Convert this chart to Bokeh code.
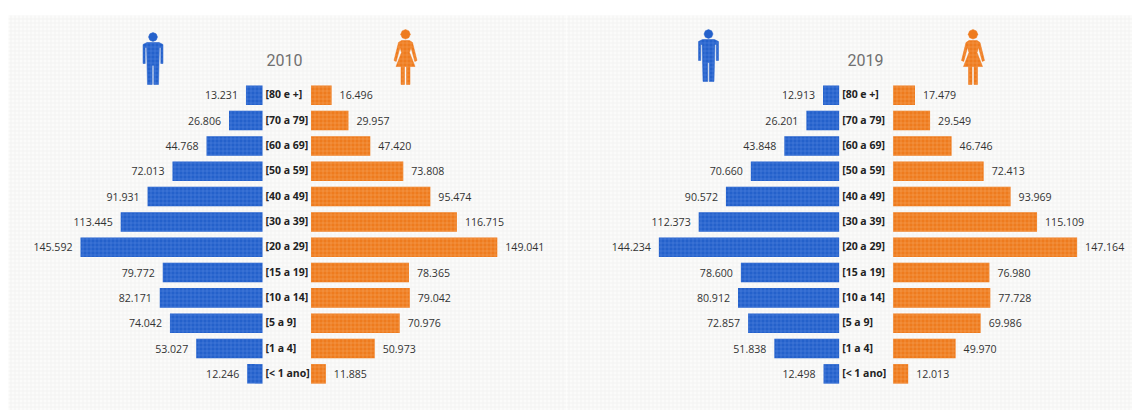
from bokeh.plotting import figure
from bokeh.layouts import row
from bokeh.models import Range1d
from bokeh.core.properties import value
from bokeh.embed import file_html
from bokeh.resources import INLINE

categories = ["[< 1 ano]", "[1 a 4]", "[5 a 9]", "[10 a 14]", "[15 a 19]", "[20 a 29]",
              "[30 a 39]", "[40 a 49]", "[50 a 59]", "[60 a 69]", "[70 a 79]", "[80 e +]"]
male_2010 = [12246, 53027, 74042, 82171, 79772, 145592, 113445, 91931, 72013, 44768, 26806, 13231]
female_2010 = [11885, 50973, 70976, 79042, 78365, 149041, 116715, 95474, 73808, 47420, 29957, 16496]
male_2019 = [12498, 51838, 72857, 80912, 78600, 144234, 112373, 90572, 70660, 43848, 26201, 12913]
female_2019 = [12013, 49970, 69986, 77728, 76980, 147164, 115109, 93969, 72413, 46746, 29549, 17479]

BLUE, ORANGE = "#2461cb", "#ee7b1e"
BG = "#fbfbfa"
PX = 0.00125       # pixels per person
ROW = 25.33        # pixels per row
W, H = 566, 410
TOP_END = 14.74    # row value at the top edge of the page


def fmt(v):
    return f"{v:,}".replace(",", ".")


def icon(p, color, hatch, outline, head_r, cx, top, h, units, center_px):
    s = h / units
    X = lambda d: (cx + d * s - center_px) / PX
    Y = lambda d: TOP_END - (top + d * s) / ROW
    p.patch([X(a) for a, _ in outline], [Y(b) for _, b in outline],
            fill_color=color, line_color=color, line_width=0.5,
            hatch_pattern="cross", hatch_color=hatch, hatch_alpha=0.5, hatch_scale=4, hatch_weight=0.6)
    ring = [(-1, 0), (-.7, -.7), (0, -1), (.7, -.7), (1, 0), (.7, .7), (0, 1), (-.7, .7)]
    p.patch([X(head_r * a) for a, _ in ring], [Y(head_r + head_r * b) for _, b in ring],
            fill_color=color, line_color=color, line_width=0.5)


MAN = [(-10, 12), (-6, 10), (6, 10), (10, 12), (10, 31), (7.8, 31), (7.8, 15), (6.4, 15), (5.5, 52), (0.8, 52),
       (0.8, 33), (-0.8, 33), (-0.8, 52), (-5.5, 52), (-6.4, 15), (-7.8, 15), (-7.8, 31), (-10, 31)]
WOMAN = [(-4, 11), (4, 11), (7, 13), (11.5, 31), (9.3, 32), (5.5, 18), (4, 23), (9.5, 37), (4.5, 37), (4.5, 55),
         (1, 55), (1, 37), (-1, 37), (-1, 55), (-4.5, 55), (-4.5, 37), (-9.5, 37), (-4, 23), (-5.5, 18),
         (-9.3, 32), (-11.5, 31), (-7, 13)]


def panel(male, female, title, title_px, center_px, gap_px, man_xy, woman_xy, page_left):
    half = gap_px / 2 / PX
    start = -(center_px - page_left) / PX
    p = figure(width=W, height=H, output_backend="svg", toolbar_location=None,
               x_range=Range1d(start, start + W / PX),
               y_range=Range1d(TOP_END - H / ROW, TOP_END),
               min_border=0, outline_line_color=None, background_fill_color="#ffffff",
               border_fill_color="#ffffff")
    p.axis.visible = False
    p.grid.visible = False
    # paper backdrop, white above y=15 and left of x=8
    p.quad(left=(8 - center_px) / PX, right=start + W / PX, top=TOP_END - 15 / ROW, bottom=TOP_END - H / ROW,
           fill_color=BG, line_color=None,
           hatch_pattern="cross", hatch_color="#ebebe9", hatch_alpha=0.8, hatch_scale=4, hatch_weight=0.6)
    y = list(range(len(categories)))
    p.hbar(y=y, left=[-v - half for v in male], right=-half, height=0.77,
           fill_color=BLUE, line_color=None,
           hatch_pattern="cross", hatch_color="#6f9be6", hatch_alpha=0.5, hatch_scale=4, hatch_weight=0.6)
    p.hbar(y=y, left=half, right=[v + half for v in female], height=0.77,
           fill_color=ORANGE, line_color=None,
           hatch_pattern="cross", hatch_color="#f9b57a", hatch_alpha=0.55, hatch_scale=4, hatch_weight=0.6)
    font = value("Open Sans")
    p.text([-v - half for v in male], y, text=[fmt(v) for v in male], text_align="right",
           text_baseline="middle", x_offset=-8, text_font=font, text_font_size="10.6px", text_color="#333333")
    p.text([v + half for v in female], y, text=[fmt(v) for v in female], text_align="left",
           text_baseline="middle", x_offset=8, text_font=font, text_font_size="10.6px", text_color="#333333")
    p.text([-half] * len(y), y, text=categories, text_align="left", text_baseline="middle",
           x_offset=3, y_offset=-1, text_font=font, text_font_size="10.5px", text_font_style="bold",
           text_color="#222222")
    p.text([(title_px - center_px) / PX], [TOP_END - 59 / ROW], text=[title], text_align="center",
           text_baseline="middle", text_font=value("Roboto"), text_font_size="16px", text_color="#707070")
    icon(p, BLUE, "#6f9be6", MAN, 4.5, man_xy[0], man_xy[1], man_xy[2], 52, center_px)
    icon(p, ORANGE, "#f9b57a", WOMAN, 4.8, woman_xy[0], woman_xy[1], woman_xy[2], 55, center_px)
    return p


p1 = panel(male_2010, female_2010, "2010", 284, 286.25, 48.5, (152.5, 32, 52), (405, 29, 55), 0)
p2 = panel(male_2019, female_2019, "2019", 865, 865.65, 54.0, (708, 29, 52), (972.5, 29, 55), 566)
page = row(p1, p2, spacing=0)

open("out.html", "w").write(file_html(page, INLINE))
